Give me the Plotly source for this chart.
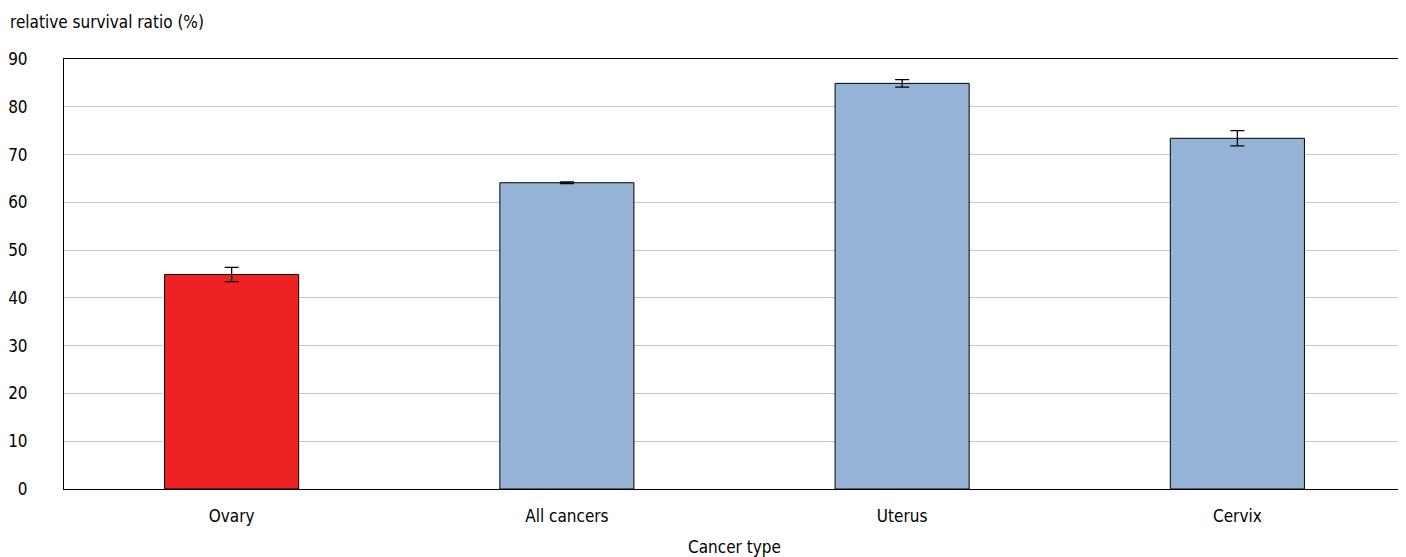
import plotly.graph_objects as go

categories = ["Ovary", "All cancers", "Uterus", "Cervix"]
values = [44.9, 64.1, 84.9, 73.4]
err_plus = [1.5, 0.2, 0.8, 1.6]
err_minus = [1.5, 0.2, 0.8, 1.6]
colors = ["#EE2222", "#95B3D7", "#95B3D7", "#95B3D7"]
y_ticks = [0, 10, 20, 30, 40, 50, 60, 70, 80, 90]

FONT = "DejaVu Sans Condensed, sans-serif"
FS = 17

fig = go.Figure(go.Bar(
    x=categories, y=values, width=0.4,
    marker=dict(color=colors, line=dict(color="#000000", width=1)),
    error_y=dict(type="data", symmetric=False, array=err_plus, arrayminus=err_minus,
                 color="#000000", thickness=1.3, width=7),
))

fig.update_layout(
    width=1398, height=549,
    margin=dict(l=56, r=1, t=51, b=68),
    paper_bgcolor="white", plot_bgcolor="white",
    font=dict(family=FONT, size=FS, color="#000000"),
    showlegend=False,
    xaxis=dict(showline=True, linecolor="#000000", linewidth=1, mirror=True,
               ticks="", tickfont=dict(size=FS), ticklabelstandoff=12, automargin=False,
               title=dict(text="Cancer type", font=dict(size=FS), standoff=18)),
    yaxis=dict(range=[0, 90], tickvals=y_ticks, showgrid=True, gridcolor="#C8C8C8",
               gridwidth=1, showline=True, linecolor="#000000", linewidth=1, mirror=True,
               ticks="", ticklabelstandoff=32, zeroline=False, tickfont=dict(size=FS),
               automargin=False),
    annotations=[dict(text="relative survival ratio (%)", xref="paper", yref="paper",
                      x=0, y=1, xshift=-56, yshift=37, xanchor="left", yanchor="middle",
                      showarrow=False, font=dict(size=FS))],
)

fig.write_html("out.html")
